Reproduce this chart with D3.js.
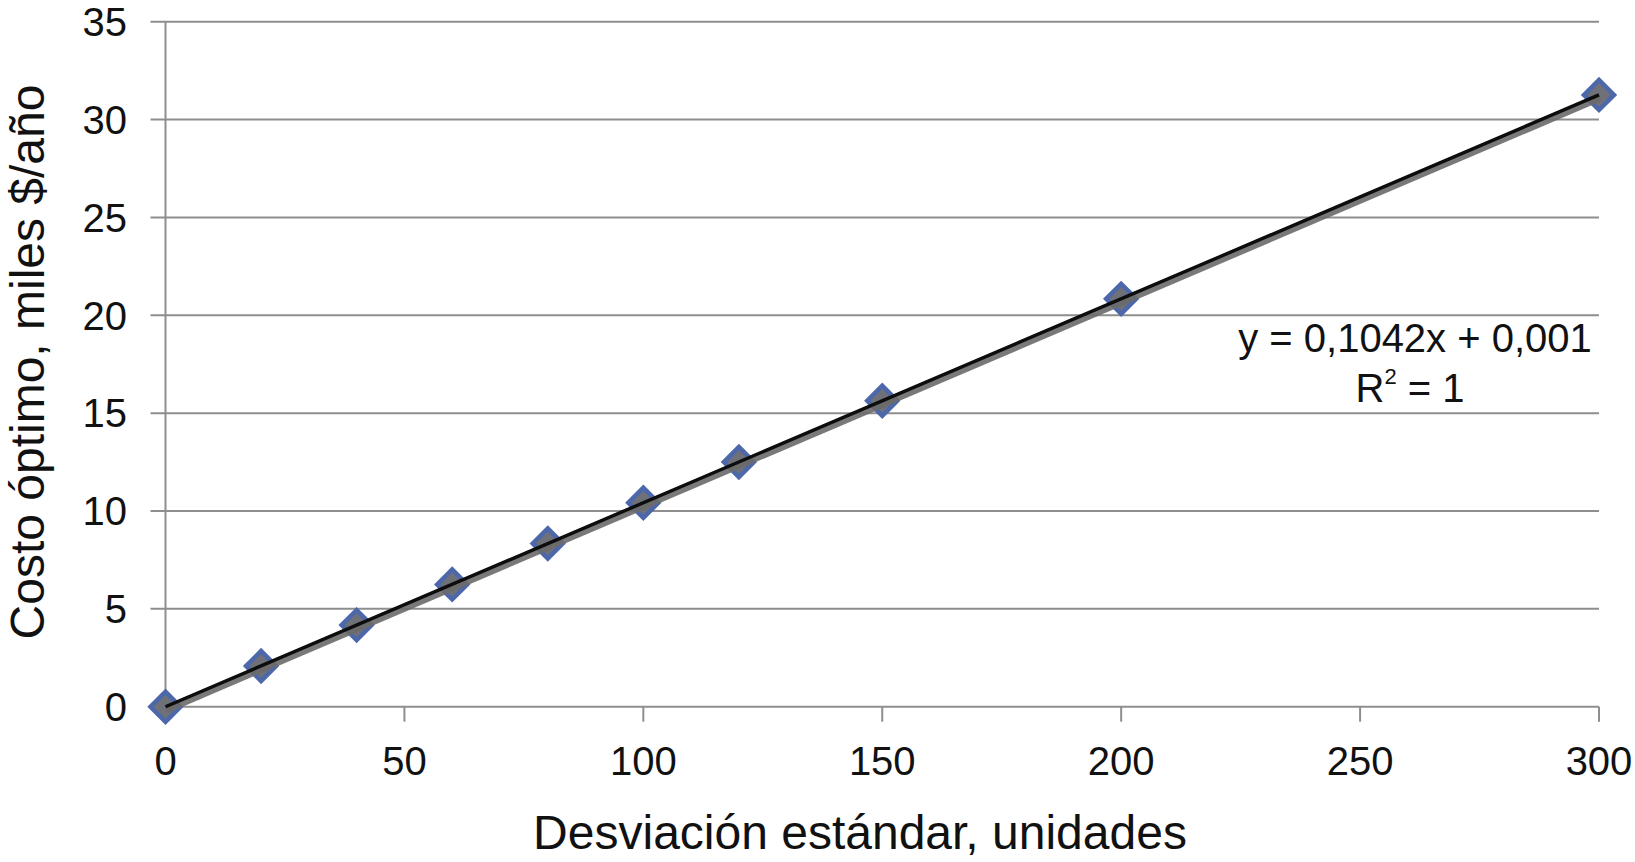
<!DOCTYPE html>
<html>
<head>
<meta charset="utf-8">
<script src="https://cdn.jsdelivr.net/npm/d3@7"></script>
<style>
  html, body { margin: 0; padding: 0; background: #fff; }
  svg { display: block; }
  text { font-family: "Liberation Sans", Arial, Helvetica, sans-serif; fill: #111; }
</style>
</head>
<body>
<svg id="chart" width="1635" height="862"></svg>
<script>
// ---- data ----
const xValues = [0, 20, 40, 60, 80, 100, 120, 150, 200, 300];
const yValues = [0, 2.08, 4.17, 6.25, 8.34, 10.42, 12.5, 15.63, 20.84, 31.26];
const xTicks = [0, 50, 100, 150, 200, 250, 300];
const yTicks = [0, 5, 10, 15, 20, 25, 30, 35];
const xTitle = "Desviación estándar, unidades";
const yTitle = "Costo óptimo, miles $/año";
const eqLine1 = "y = 0,1042x + 0,001";

(function () {
const W = 1635, H = 862;
const mLeft = 165.5, mRight = 1599, mTop = 21.7, mBottom = 706.7;

const svg = d3.select("#chart");
svg.append("rect").attr("width", W).attr("height", H).attr("fill", "#fff");

const x = d3.scaleLinear().domain([0, 300]).range([mLeft, mRight]);
const y = d3.scaleLinear().domain([0, 35]).range([mBottom, mTop]);

const gridColor = "#8e8e8e";

// horizontal gridlines (with tick stubs to the left)
svg.append("g").selectAll("line").data(yTicks).join("line")
  .attr("x1", mLeft - 15).attr("x2", mRight)
  .attr("y1", d => y(d)).attr("y2", d => y(d))
  .attr("stroke", gridColor).attr("stroke-width", 2);

// y axis line
svg.append("line").attr("x1", mLeft).attr("x2", mLeft).attr("y1", mTop).attr("y2", mBottom)
  .attr("stroke", gridColor).attr("stroke-width", 2);

// x tick stubs
svg.append("g").selectAll("line").data(xTicks).join("line")
  .attr("x1", d => x(d)).attr("x2", d => x(d))
  .attr("y1", mBottom).attr("y2", mBottom + 15)
  .attr("stroke", gridColor).attr("stroke-width", 2);

// y tick labels
svg.append("g").selectAll("text").data(yTicks).join("text")
  .attr("x", 127).attr("y", d => y(d) + 14.3)
  .attr("text-anchor", "end").attr("font-size", 40)
  .text(d => d);

// x tick labels
svg.append("g").selectAll("text").data(xTicks).join("text")
  .attr("x", d => x(d)).attr("y", 775)
  .attr("text-anchor", "middle").attr("font-size", 40)
  .text(d => d);

// axis titles
svg.append("text").attr("x", 860).attr("y", 849)
  .attr("text-anchor", "middle").attr("font-size", 48).text(xTitle);
svg.append("text").attr("transform", "translate(44,362) rotate(-90)")
  .attr("text-anchor", "middle").attr("font-size", 48).text(yTitle);

// markers
const pts = xValues.map((v, i) => [v, yValues[i]]);
const diamond = d3.symbol().type(d3.symbolSquare).size(450);
svg.append("g").selectAll("path").data(pts).join("path")
  .attr("d", diamond)
  .attr("transform", d => `translate(${x(d[0])},${y(d[1])}) rotate(45)`)
  .attr("fill", "#6f7179").attr("stroke", "#4d68aa").attr("stroke-width", 4.5);

// linear trendline (least squares from the data)
const mx = d3.mean(xValues), my = d3.mean(yValues);
const slope = d3.sum(xValues.map((v, i) => (v - mx) * (yValues[i] - my))) /
              d3.sum(xValues.map(v => (v - mx) ** 2));
const intercept = my - slope * mx;
const trend = [0, 300].map(v => [v, intercept + slope * v]);
const line = d3.line().x(d => x(d[0])).y(d => y(d[1]));
svg.append("path").datum(trend).attr("d", line)
  .attr("transform", "translate(1,2.5)")
  .attr("fill", "none").attr("stroke", "#6a6a6a").attr("stroke-width", 8).attr("stroke-opacity", 0.9);
svg.append("path").datum(trend).attr("d", line)
  .attr("fill", "none").attr("stroke", "#0d0d0d").attr("stroke-width", 3.4);

// equation label
svg.append("text").attr("x", 1415).attr("y", 352)
  .attr("text-anchor", "middle").attr("font-size", 40).text(eqLine1);
const r2 = svg.append("text").attr("x", 1410).attr("y", 402)
  .attr("text-anchor", "middle").attr("font-size", 40);
r2.append("tspan").text("R");
r2.append("tspan").attr("font-size", 22).attr("dy", -18).text("2");
r2.append("tspan").attr("dy", 18).text(" = 1");
})();
</script>
</body>
</html>
